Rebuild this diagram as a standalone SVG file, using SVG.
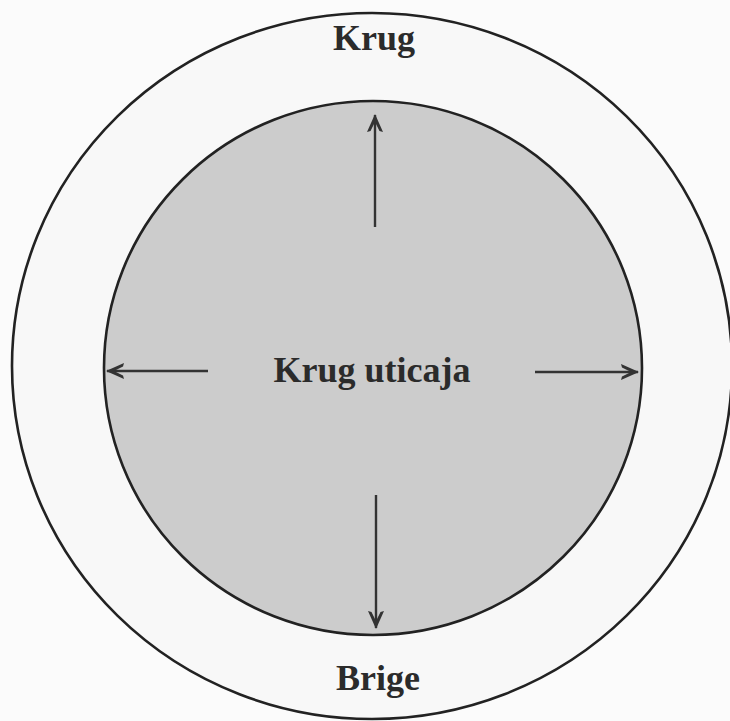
<svg xmlns="http://www.w3.org/2000/svg" width="730" height="721" viewBox="0 0 730 721">
  <style>
    .ring { stroke: #222; stroke-width: 2.6; }
    .arrow { stroke: #333; stroke-width: 2.4; fill: none; marker-end: url(#head); }
    .label { font-family: "Liberation Serif", "DejaVu Serif", serif; font-weight: bold; fill: #2b2b2b; text-anchor: middle; }
  </style>
  <defs>
    <marker id="head" viewBox="0 0 18 16" refX="17" refY="8" markerWidth="18" markerHeight="16" markerUnits="userSpaceOnUse" orient="auto">
      <path d="M0,0 L18,8 L0,16 L1,12.5 L10,8 L1,3.5 z" fill="#333"/>
    </marker>
  </defs>
  <rect width="730" height="721" fill="#fbfbfb"/>
  <g id="outer-circle">
    <ellipse class="ring" cx="372" cy="366" rx="360" ry="353" fill="#f8f8f8"/>
    <text class="label" x="374" y="50" font-size="36">Krug</text>
    <text class="label" x="378" y="690" font-size="36">Brige</text>
  </g>
  <g id="inner-circle">
    <ellipse class="ring" cx="373" cy="368" rx="269" ry="267" fill="#cccccc"/>
    <text class="label" x="372" y="382" font-size="36">Krug uticaja</text>
  </g>
  <g id="connectors">
    <line class="arrow" x1="375" y1="227" x2="375" y2="115"/>
    <line class="arrow" x1="376" y1="495" x2="376" y2="628"/>
    <line class="arrow" x1="208" y1="371" x2="107" y2="371"/>
    <line class="arrow" x1="535" y1="372" x2="638" y2="372"/>
  </g>
</svg>
